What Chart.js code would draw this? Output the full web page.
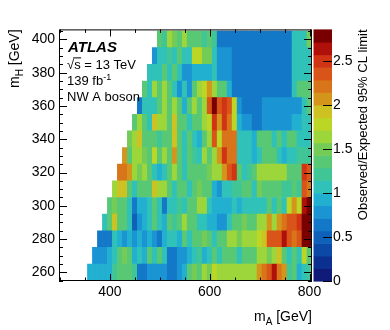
<!DOCTYPE html>
<html>
<head>
<meta charset="utf-8">
<script src="https://cdn.jsdelivr.net/npm/chart.js@4.4.1/dist/chart.umd.min.js"></script>
<style>
  html, body { margin: 0; padding: 0; background: #fff; }
</style>
</head>
<body>
<canvas id="limitMap" width="390" height="330"></canvas>
<script>
// bin centres (GeV)
const mA = [360, 370, 380, 390, 400, 410, 420, 430, 440, 450, 460, 470, 480, 490, 500,
            510, 520, 530, 540, 550, 560, 570, 580, 590, 600, 610, 620, 630, 640, 650,
            660, 670, 680, 690, 700, 710, 720, 730, 740, 750, 760, 770, 780, 790, 800];
const mH = [260, 270, 280, 290, 300, 310, 320, 330, 340, 350, 360, 370, 380, 390, 400];
const binHalf = 5;

// observed/expected ratio per mH row, last entry is mA = 800
const z260 = [0.93, 0.95, 0.92, 0.93, 0.94, 1.22, 1.36, 1.38, 1.35, 1.22, 0.64, 0.66, 0.79, 0.78, 0.80, 0.79, 0.65, 0.63, 0.79, 0.93,
              1.36, 1.50, 1.36, 1.64, 1.50, 1.79, 1.64, 1.65, 1.63, 1.64, 1.66, 1.64, 1.62, 1.64, 2.07, 2.22, 2.36, 2.65, 2.22, 2.07,
              1.22, 1.36, 0.93, 1.07, 1.22];
const z270 = [0.79, 0.80, 0.78, 0.93, 1.07, 1.36, 1.50, 1.36, 0.93, 1.07, 0.93, 1.36, 1.07, 1.36, 1.07, 0.64, 0.65, 0.79, 0.78, 0.93,
              1.07, 1.22, 0.93, 1.07, 1.36, 1.07, 1.36, 1.38, 1.35, 1.07, 1.36, 1.37, 1.36, 1.64, 1.63, 1.50, 1.64, 1.93, 1.36, 1.07,
              1.36, 1.07, 1.79, 1.36];
const z280 = [0.64, 0.65, 0.63, 1.07, 0.93, 0.79, 0.93, 0.79, 0.93, 0.79, 0.93, 0.79, 0.64, 0.93, 1.07, 1.08, 0.93, 1.36, 1.07, 1.36,
              1.36, 1.50, 1.36, 1.07, 1.36, 1.37, 1.64, 1.64, 1.50, 1.64, 1.65, 1.63, 1.79, 1.93, 2.36, 2.37, 2.35, 2.65, 2.36, 2.22,
              2.36, 2.79, 2.80];
const z290 = [1.07, 1.36, 1.93, 1.36, 1.36, 1.07, 0.50, 0.79, 0.93, 1.07, 1.36, 1.07, 0.93, 1.36, 1.22, 1.36, 1.64, 1.36, 1.36, 1.07,
              1.07, 0.93, 0.93, 0.79, 0.79, 1.07, 1.36, 1.36, 1.50, 1.36, 1.36, 1.64, 1.64, 2.07, 1.64, 2.07, 2.22, 2.36, 2.36, 2.50,
              2.79, 2.81];
const z300 = [1.36, 1.50, 1.36, 1.36, 1.07, 0.64, 0.93, 0.93, 1.07, 1.36, 1.07, 0.64, 1.07, 1.07, 1.22, 1.07, 1.36, 1.36, 1.64, 1.64,
              1.07, 0.93, 0.94, 0.92, 0.93, 1.07, 0.93, 1.07, 1.07, 1.08, 1.07, 1.06, 1.36, 1.07, 1.36, 1.07, 1.79, 2.07, 1.79, 2.65,
              2.79];
const z310 = [1.64, 1.93, 1.93, 1.36, 1.07, 1.36, 1.36, 1.36, 1.93, 1.64, 1.64, 1.36, 1.07, 1.36, 1.36, 1.07, 1.36, 1.50, 1.36, 1.36,
              0.93, 0.79, 1.07, 1.07, 1.22, 1.22, 1.36, 1.36, 1.07, 1.50, 1.36, 1.36, 1.36, 1.36, 1.22, 1.22, 1.36, 1.22, 2.36, 2.22];
const z320 = [2.22, 2.22, 2.07, 1.64, 1.50, 1.64, 1.36, 1.07, 0.93, 1.07, 1.36, 1.64, 1.36, 1.07, 1.36, 1.36, 1.36, 1.36, 1.50, 1.64,
              1.64, 2.07, 2.36, 2.50, 1.36, 1.07, 1.22, 1.36, 1.64, 1.64, 1.65, 1.64, 1.63, 1.64, 1.36, 1.36, 1.36, 2.50, 2.36];
const z330 = [2.07, 1.36, 1.64, 1.64, 1.50, 1.36, 1.79, 1.36, 1.64, 1.36, 2.07, 1.36, 1.07, 1.36, 1.22, 1.07, 1.64, 1.36, 1.64, 2.07,
              2.50, 2.22, 2.22, 1.07, 1.07, 1.07, 0.93, 1.07, 1.36, 1.36, 1.36, 1.07, 0.93, 1.07, 1.07, 1.22, 1.22, 1.22];
const z340 = [1.50, 1.64, 1.93, 1.36, 1.36, 1.36, 1.22, 1.36, 1.36, 1.93, 1.36, 1.07, 1.36, 1.07, 0.93, 1.36, 1.64, 2.36, 1.79, 2.22,
              2.22, 2.22, 1.07, 1.07, 1.07, 0.93, 1.36, 1.36, 1.36, 1.07, 1.36, 1.07, 1.36, 1.36, 1.07, 1.07, 1.07];
const z350 = [1.36, 1.64, 1.36, 1.07, 1.93, 1.64, 1.64, 1.36, 1.93, 1.36, 1.36, 1.07, 1.36, 1.36, 1.64, 1.79, 2.50, 2.07, 2.50, 2.22,
              1.79, 0.93, 0.79, 0.79, 0.64, 0.65, 0.79, 0.78, 0.80, 0.79, 0.79, 0.78, 0.93, 0.93, 1.07, 1.07];
const z360 = [0.64, 1.07, 1.07, 1.07, 1.36, 1.64, 1.36, 1.64, 1.36, 0.93, 1.36, 1.64, 1.36, 1.64, 2.36, 2.79, 2.36, 2.50, 2.36, 1.79,
              0.79, 0.64, 0.65, 0.63, 0.64, 0.79, 0.80, 0.78, 0.79, 0.79, 0.80, 0.78, 0.79, 1.07, 1.36];
const z370 = [1.36, 1.07, 1.64, 1.36, 1.64, 1.36, 1.07, 0.79, 1.07, 0.79, 1.36, 1.64, 1.79, 2.07, 1.64, 1.36, 1.36, 0.93, 0.64, 0.65,
              0.63, 0.64, 0.66, 0.64, 0.62, 0.64, 0.65, 0.64, 0.63, 0.64, 1.07, 1.36, 1.36, 1.36];
const z380 = [1.07, 1.07, 1.07, 1.36, 1.07, 1.36, 1.07, 0.79, 0.79, 0.93, 0.93, 0.93, 0.93, 1.07, 0.79, 0.79, 0.79, 0.64, 0.65, 0.64,
              0.63, 0.64, 0.66, 0.64, 0.65, 0.63, 0.64, 0.64, 0.65, 1.07, 1.07, 1.07, 1.07];
const z390 = [0.79, 1.07, 1.07, 1.22, 1.07, 1.36, 1.07, 1.07, 1.79, 1.79, 1.50, 1.50, 1.07, 0.79, 0.79, 0.79, 0.64, 0.63, 0.65, 0.64,
              0.64, 0.66, 0.64, 0.63, 0.64, 0.65, 0.64, 0.64, 1.07, 1.07, 1.07, 1.07];
const z400 = [1.36, 1.22, 1.64, 1.50, 1.36, 1.64, 1.36, 1.36, 1.36, 1.22, 1.36, 1.22, 0.64, 0.65, 0.64, 0.63, 0.64, 0.66, 0.64, 0.64,
              0.65, 0.63, 0.64, 0.64, 0.65, 0.64, 0.63, 1.07, 1.07, 1.07, 1.50];
const zRows = [z260, z270, z280, z290, z300, z310, z320, z330, z340, z350, z360, z370, z380, z390, z400];

// axis ticks
const xTicks = [400, 600, 800];
const yTicks = [260, 280, 300, 320, 340, 360, 380, 400];
const zTicks = [0, 0.5, 1, 1.5, 2, 2.5];
const zMax = 2.86;

// 20 contour colours, low to high
const palette = ['#101a78', '#0c3090', '#0c48a6', '#0e60b8', '#1478c8', '#1a94d2', '#22b0d0', '#30c2b8', '#40c696', '#58c874',
                 '#74cc56', '#9cd63a', '#bcd626', '#cec222', '#d4961a', '#d8741a', '#d85418', '#d03414', '#b0100a', '#780000'];

function colorFor(v) {
  let i = Math.floor(v / zMax * palette.length);
  if (i < 0) i = 0;
  if (i > palette.length - 1) i = palette.length - 1;
  return palette[i];
}

const fontFam = '"Liberation Sans", Arial, Helvetica, sans-serif';

const datasets = mH.map((h, r) => {
  const row = zRows[r];
  const xs = mA.slice(mA.length - row.length);
  return {
    label: 'mH ' + h,
    data: row.map((v, i) => ({ x: xs[i], y: [h - binHalf, h + binHalf], z: v })),
    backgroundColor: ctx => colorFor(ctx.raw.z),
    borderWidth: 0,
    grouped: false,
    barPercentage: 1,
    categoryPercentage: 1
  };
});

// draw a string made of pieces with their own size / vertical shift
function drawParts(ctx, x, y, parts, align) {
  let total = 0;
  parts.forEach(p => { ctx.font = p.style + ' ' + p.size + 'px ' + fontFam; p.w = ctx.measureText(p.t).width; total += p.w; });
  let cx = align === 'right' ? x - total : x;
  ctx.textAlign = 'left';
  parts.forEach(p => {
    ctx.font = p.style + ' ' + p.size + 'px ' + fontFam;
    ctx.fillText(p.t, cx, y + p.dy);
    cx += p.w;
  });
}

const rootFrame = {
  id: 'rootFrame',
  afterDraw(chart) {
    const { ctx, chartArea: a, scales } = chart;
    const sx = scales.x, sy = scales.y, sz = scales.z;
    ctx.save();

    // colour bar
    const cbL = a.right + 1.5, cbW = 18.5;
    for (let i = 0; i < palette.length; i++) {
      const y0 = sz.getPixelForValue(i * zMax / palette.length);
      const y1 = sz.getPixelForValue((i + 1) * zMax / palette.length);
      ctx.fillStyle = palette[i];
      ctx.fillRect(cbL, y1, cbW, y0 - y1 + 0.6);
    }

    ctx.strokeStyle = '#000';
    ctx.lineWidth = 1;
    ctx.beginPath();
    zTicks.forEach(t => {
      const y = Math.round(sz.getPixelForValue(t)) + 0.5;
      ctx.moveTo(cbL + cbW - 9, y);
      ctx.lineTo(cbL + cbW, y);
    });
    // inward ticks on all four sides
    for (let v = 300; v <= 800; v += 50) {
      const x = Math.round(sx.getPixelForValue(v)) + 0.5;
      const len = xTicks.includes(v) ? 7 : 3.5;
      ctx.moveTo(x, a.bottom); ctx.lineTo(x, a.bottom - len);
      ctx.moveTo(x, a.top); ctx.lineTo(x, a.top + len);
    }
    for (let v = 255; v <= 405; v += 5) {
      const y = Math.round(sy.getPixelForValue(v)) + 0.5;
      const len = yTicks.includes(v) ? 8 : 4;
      ctx.moveTo(a.left, y); ctx.lineTo(a.left + len, y);
      ctx.moveTo(a.right, y); ctx.lineTo(a.right - len, y);
    }
    ctx.stroke();
    ctx.strokeRect(a.left + 0.5, a.top + 0.5, a.width - 1, a.height - 1);

    // labels
    ctx.fillStyle = '#000';
    ctx.textBaseline = 'alphabetic';
    ctx.textAlign = 'left';
    ctx.font = 'italic bold 15px ' + fontFam;
    ctx.fillText('ATLAS', a.left + 9, a.top + 23);

    ctx.font = '13px ' + fontFam;
    const tx = a.left + 8;
    ctx.fillText('\u221As = 13 TeV', tx, a.top + 40);
    const wr = ctx.measureText('\u221A').width, ws = ctx.measureText('s').width;
    ctx.beginPath();
    ctx.moveTo(tx + wr - 1, a.top + 28.5);
    ctx.lineTo(tx + wr + ws + 0.5, a.top + 28.5);
    ctx.stroke();

    drawParts(ctx, tx, a.top + 56, [
      { t: '139 fb', size: 13, style: '', dy: 0 },
      { t: '-1', size: 9, style: '', dy: -5 }
    ], 'left');
    ctx.font = '13px ' + fontFam;
    ctx.fillText('NW A boson', tx, a.top + 72);

    // axis titles
    drawParts(ctx, a.right, 321, [
      { t: 'm', size: 14, style: '', dy: 0 },
      { t: 'A', size: 10, style: '', dy: 4 },
      { t: ' [GeV]', size: 14, style: '', dy: 0 }
    ], 'right');

    ctx.save();
    ctx.translate(19, a.top);
    ctx.rotate(-Math.PI / 2);
    drawParts(ctx, 0, 0, [
      { t: 'm', size: 14, style: '', dy: 0 },
      { t: 'H', size: 10, style: '', dy: 4 },
      { t: ' [GeV]', size: 14, style: '', dy: 0 }
    ], 'right');
    ctx.restore();

    ctx.save();
    ctx.translate(367, a.top);
    ctx.rotate(-Math.PI / 2);
    ctx.font = '13px ' + fontFam;
    ctx.textAlign = 'right';
    ctx.fillText('Observed/Expected 95% CL limit', 0, 0);
    ctx.restore();

    ctx.restore();
  }
};

const tickFont = { family: fontFam, size: 14 };

new Chart(document.getElementById('limitMap'), {
  type: 'bar',
  data: { datasets: datasets },
  options: {
    responsive: false,
    animation: false,
    layout: { padding: { top: 16, left: 0, right: 0, bottom: 0 } },
    plugins: { legend: { display: false }, tooltip: { enabled: false }, title: { display: false } },
    scales: {
      x: {
        type: 'linear',
        position: 'bottom',
        min: 298,
        max: 805,
        offset: false,
        afterBuildTicks: s => { s.ticks = xTicks.map(v => ({ value: v })); },
        afterFit: s => { s.height = 49; },
        grid: { display: false, drawTicks: false },
        border: { display: false },
        ticks: { font: tickFont, color: '#000', padding: 3, maxRotation: 0, autoSkip: false, callback: v => String(v) }
      },
      y: {
        type: 'linear',
        position: 'left',
        min: 254.8,
        max: 406,
        afterBuildTicks: s => { s.ticks = yTicks.map(v => ({ value: v })); },
        afterFit: s => { s.width = 59; },
        grid: { display: false, drawTicks: false },
        border: { display: false },
        ticks: { font: tickFont, color: '#000', padding: 4, autoSkip: false, callback: v => String(v) }
      },
      z: {
        type: 'linear',
        position: 'right',
        min: 0,
        max: zMax,
        afterBuildTicks: s => { s.ticks = zTicks.map(v => ({ value: v })); },
        afterFit: s => { s.width = 78; },
        grid: { display: false, drawTicks: false },
        border: { display: false },
        ticks: { font: tickFont, color: '#000', padding: 21, autoSkip: false, callback: v => String(v) }
      }
    }
  },
  plugins: [rootFrame]
});
</script>
</body>
</html>
